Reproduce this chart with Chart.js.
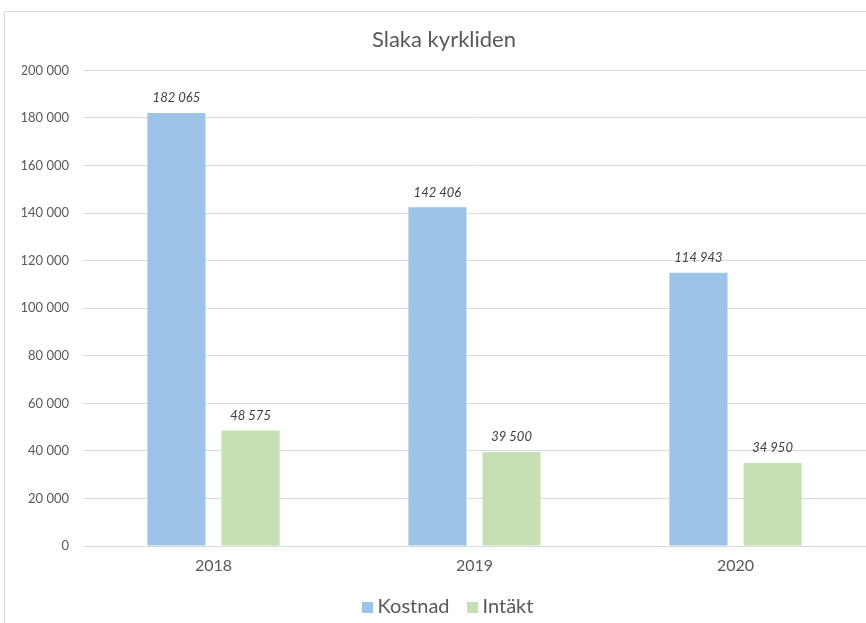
<!DOCTYPE html>
<html>
<head>
<meta charset="utf-8">
<script src="https://cdn.jsdelivr.net/npm/chart.js@4"></script>
<style>
  html, body { margin: 0; padding: 0; background: #fff; }
  #wrap { position: relative; width: 866px; height: 623px; }
  canvas { display: block; }
</style>
</head>
<body>
<div id="wrap"><canvas id="c" width="866" height="623"></canvas></div>
<script>
const categories = ['2018', '2019', '2020'];
const kostnad = [182065, 142406, 114943];
const intakt = [48575, 39500, 34950];
const seriesNames = ['Kostnad', 'Intäkt'];
const yTicks = [0, 20000, 40000, 60000, 80000, 100000, 120000, 140000, 160000, 180000, 200000];
const colors = ['#9DC3E6', '#C5E0B4'];

const FONT = 'Lato, "Open Sans", sans-serif';
const fmt = v => String(v).replace(/\B(?=(\d{3})+(?!\d))/g, ' ');

function swatch(color) {
  const c = document.createElement('canvas');
  c.width = 11; c.height = 11;
  const g = c.getContext('2d');
  g.fillStyle = color;
  g.fillRect(0, 0, 11, 11);
  return c;
}
const swatches = colors.map(swatch);

const borderPlugin = {
  id: 'frame',
  beforeDraw(chart) {
    const ctx = chart.ctx;
    ctx.save();
    ctx.fillStyle = '#ffffff';
    ctx.fillRect(0, 0, chart.width, chart.height);
    ctx.strokeStyle = '#D9D9D9';
    ctx.lineWidth = 1;
    ctx.beginPath();
    ctx.moveTo(4.5, chart.height);
    ctx.lineTo(4.5, 11.5);
    ctx.lineTo(chart.width, 11.5);
    ctx.stroke();
    ctx.restore();
  }
};

const legendShift = {
  id: 'legendShift',
  afterLayout(chart) {
    if (chart.legend) { chart.legend.left += 6; chart.legend.right += 6; }
  }
};

const labelPlugin = {
  id: 'valueLabels',
  afterDatasetsDraw(chart) {
    const ctx = chart.ctx;
    ctx.save();
    ctx.font = 'italic 13px ' + FONT;
    ctx.fillStyle = '#404040';
    ctx.textAlign = 'center';
    ctx.textBaseline = 'middle';
    chart.data.datasets.forEach((ds, i) => {
      const meta = chart.getDatasetMeta(i);
      meta.data.forEach((el, j) => {
        ctx.fillText(fmt(ds.data[j]), el.x, el.y - 15);
      });
    });
    ctx.restore();
  }
};

new Chart(document.getElementById('c'), {
  type: 'bar',
  data: {
    labels: categories,
    datasets: [
      { label: seriesNames[0], data: kostnad, backgroundColor: colors[0] },
      { label: seriesNames[1], data: intakt, backgroundColor: colors[1] }
    ]
  },
  options: {
    responsive: false,
    animation: false,
    devicePixelRatio: 1,
    categoryPercentage: 0.568,
    barPercentage: 0.784,
    layout: { padding: { left: 22, right: 0, top: 0, bottom: -4 } },
    plugins: {
      title: {
        display: true,
        text: 'Slaka kyrkliden',
        color: '#595959',
        font: { family: FONT, size: 22, weight: 'normal' },
        padding: { top: 27, bottom: 17 }
      },
      legend: {
        position: 'bottom',
        labels: {
          color: '#595959',
          font: { family: FONT, size: 20 },
          usePointStyle: true,
          pointStyleWidth: 1,
          boxHeight: 11,
          padding: 22,
          generateLabels(chart) {
            const items = Chart.defaults.plugins.legend.labels.generateLabels(chart);
            items.forEach((it, i) => { it.pointStyle = swatches[i]; });
            return items;
          }
        }
      },
      tooltip: { enabled: false }
    },
    scales: {
      x: {
        grid: { display: false },
        border: { display: false },
        afterFit(scale) { scale.height = 29; },
        ticks: { color: '#595959', font: { family: FONT, size: 16 }, padding: 2 }
      },
      y: {
        min: 0,
        max: 200000,
        afterBuildTicks(scale) { scale.ticks = yTicks.map(v => ({ value: v })); },
        afterFit(scale) { scale.width = 61; },
        grid: { color: '#D9D9D9', drawTicks: false },
        border: { display: false },
        ticks: { color: '#595959', font: { family: FONT, size: 13 }, padding: 14, callback: v => fmt(v) }
      }
    }
  },
  plugins: [borderPlugin, legendShift, labelPlugin]
});
</script>
</body>
</html>
